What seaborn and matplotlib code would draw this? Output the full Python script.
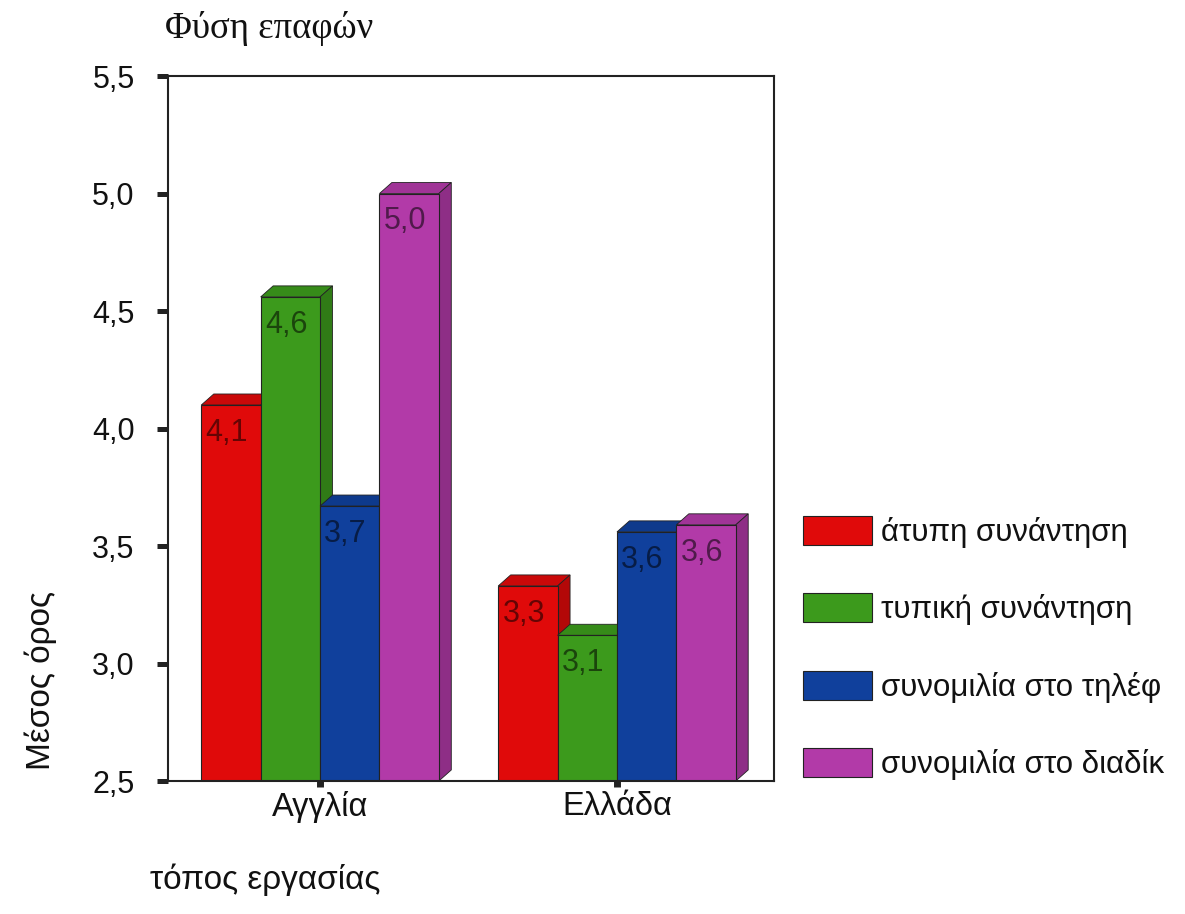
import numpy as np
import pandas as pd
import matplotlib.pyplot as plt
import matplotlib.colors as mcolors
from matplotlib.patches import Polygon
import seaborn as sns

# data
places = ['Αγγλία', 'Ελλάδα']
contact_types = ['άτυπη συνάντηση', 'τυπική συνάντηση',
                 'συνομιλία στο τηλέφ', 'συνομιλία στο διαδίκ']
means_england = [4.10, 4.56, 3.67, 5.00]
means_greece = [3.33, 3.12, 3.56, 3.59]
bar_colors = ['#e00a0a', '#3c9a1c', '#10409c', '#b23aa8']
y_ticks = [2.5, 3.0, 3.5, 4.0, 4.5, 5.0, 5.5]

df = pd.DataFrame({
    'place': np.repeat(places, len(contact_types)),
    'contact': contact_types * len(places),
    'mean': means_england + means_greece,
})

sns.set_style('white')
plt.rcParams['font.family'] = ['Liberation Sans', 'DejaVu Sans']
plt.rcParams['text.color'] = '#111111'
plt.rcParams['xtick.labelcolor'] = '#111111'
plt.rcParams['ytick.labelcolor'] = '#111111'

fig = plt.figure(figsize=(11.85, 9.14), dpi=100)
ax = fig.add_axes([0.1418, 0.1455, 0.5114, 0.7713])

sns.barplot(df, x='place', y='mean', hue='contact', hue_order=contact_types,
            palette=bar_colors, width=0.8, edgecolor='#222222', linewidth=0.8,
            saturation=1, ax=ax)

ax.set_ylim(2.5, 5.5)
ax.set_xlim(-0.512, 1.529)
ax.set_yticks(y_ticks)
ax.set_yticklabels([f'{t:.1f}'.replace('.', ',') for t in y_ticks])

# fake 3D: top and side faces for every bar
dx, dy = 0.042, 0.047
ybase = ax.get_ylim()[0]
for i, cont in enumerate(ax.containers):
    base = mcolors.to_rgb(bar_colors[i])
    side = tuple(c * 0.8 for c in base)
    top = tuple(c * 0.9 for c in base)
    for bar in cont:
        x0 = bar.get_x()
        x1 = x0 + bar.get_width()
        h = bar.get_height()
        bar.set_zorder(2 + i)
        ax.add_patch(Polygon([(x0, h), (x0 + dx, h + dy), (x1 + dx, h + dy), (x1, h)],
                             closed=True, facecolor=top, edgecolor='#222222',
                             linewidth=0.6, zorder=2 + i - 0.01))
        ax.add_patch(Polygon([(x1, ybase), (x1 + dx, ybase + dy), (x1 + dx, h + dy), (x1, h)],
                             closed=True, facecolor=side, edgecolor='#222222',
                             linewidth=0.6, zorder=2 + i - 0.01))
        ax.annotate(f'{h:.1f}'.replace('.', ','), (x0, h), xytext=(3, -20),
                    textcoords='offset points', ha='left', va='center',
                    fontsize=22, color='black', alpha=0.55, zorder=10)

for s in ax.spines.values():
    s.set_color('#222222')
    s.set_linewidth(1.5)
    s.set_zorder(20)

ax.tick_params(axis='y', direction='out', length=8, width=3.6, color='#222222',
               labelsize=22, pad=16, left=True)
ax.tick_params(axis='x', direction='out', length=4.5, width=5, color='#222222',
               labelsize=23.5, pad=3, bottom=True)
ax.set_xlabel('')
ax.set_ylabel('')

handles, labels = ax.get_legend_handles_labels()
for hd in handles:
    hd.set_edgecolor('#222222')
ax.legend(handles, labels, loc='center left', bbox_to_anchor=(0.6776, 0.2910),
          bbox_transform=fig.transFigure, frameon=False, fontsize=22.5,
          handlelength=2.2, handleheight=1.05, labelspacing=1.45,
          handletextpad=0.31, borderpad=0, borderaxespad=0)

fig.text(0.139, 0.969, 'Φύση επαφών', family=['Liberation Serif', 'DejaVu Serif'],
         fontsize=26.5, ha='left', va='center')
fig.text(0.034, 0.256, 'Μέσος όρος', rotation=90, fontsize=24,
         ha='center', va='center')
fig.text(0.127, 0.037, 'τόπος εργασίας', fontsize=24, ha='left', va='center')

fig.savefig('out.png', dpi=100)
